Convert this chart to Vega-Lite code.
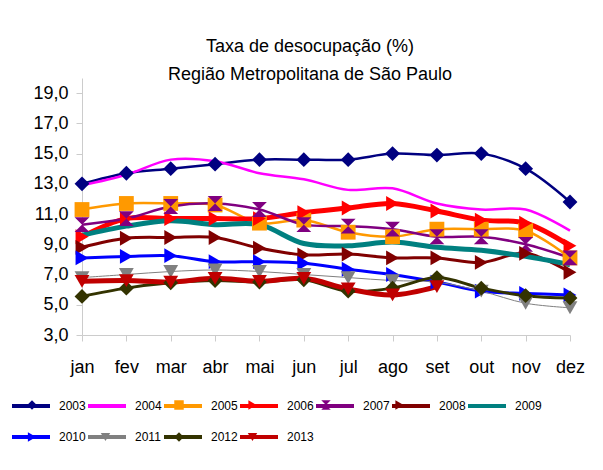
{
  "$schema": "https://vega.github.io/schema/vega-lite/v6.json",
  "width": 488,
  "height": 257,
  "autosize": {"type": "none"},
  "padding": {"left": 82, "top": 78, "right": 33, "bottom": 135},
  "background": "white",
  "title": {
    "text": ["Taxa de desocupação (%)", "Região Metropolitana de São Paulo"],
    "font": "Liberation Sans",
    "fontSize": 18,
    "fontWeight": "normal",
    "lineHeight": 28,
    "anchor": "middle",
    "offset": -6,
    "dx": -16,
    "color": "black"
  },
  "config": {
    "view": {"stroke": null},
    "axis": {
      "labelFont": "Liberation Sans",
      "labelFontSize": 18,
      "labelColor": "black",
      "domainColor": "#cccccc",
      "tickColor": "#cccccc",
      "tickSize": 6,
      "grid": false,
      "title": null
    },
    "legend": {
      "labelFont": "Liberation Sans",
      "labelFontSize": 12,
      "labelColor": "black"
    }
  },
  "data": {
    "values": [
      {"year": "2003", "month": "jan", "value": 13.0}, {"year": "2003", "month": "fev", "value": 13.7}, {"year": "2003", "month": "mar", "value": 14.0}, {"year": "2003", "month": "abr", "value": 14.3}, {"year": "2003", "month": "mai", "value": 14.6}, {"year": "2003", "month": "jun", "value": 14.6}, {"year": "2003", "month": "jul", "value": 14.6}, {"year": "2003", "month": "ago", "value": 15.0}, {"year": "2003", "month": "set", "value": 14.9}, {"year": "2003", "month": "out", "value": 15.0}, {"year": "2003", "month": "nov", "value": 14.0}, {"year": "2003", "month": "dez", "value": 11.8},
      {"year": "2004", "month": "jan", "value": 12.9}, {"year": "2004", "month": "fev", "value": 13.6}, {"year": "2004", "month": "mar", "value": 14.6}, {"year": "2004", "month": "abr", "value": 14.5}, {"year": "2004", "month": "mai", "value": 13.7}, {"year": "2004", "month": "jun", "value": 13.3}, {"year": "2004", "month": "jul", "value": 12.6}, {"year": "2004", "month": "ago", "value": 12.7}, {"year": "2004", "month": "set", "value": 11.7}, {"year": "2004", "month": "out", "value": 11.3}, {"year": "2004", "month": "nov", "value": 11.3}, {"year": "2004", "month": "dez", "value": 9.9},
      {"year": "2005", "month": "jan", "value": 11.3}, {"year": "2005", "month": "fev", "value": 11.7}, {"year": "2005", "month": "mar", "value": 11.7}, {"year": "2005", "month": "abr", "value": 11.6}, {"year": "2005", "month": "mai", "value": 10.4}, {"year": "2005", "month": "jun", "value": 10.6}, {"year": "2005", "month": "jul", "value": 9.8}, {"year": "2005", "month": "ago", "value": 9.5}, {"year": "2005", "month": "set", "value": 10.0}, {"year": "2005", "month": "out", "value": 10.0}, {"year": "2005", "month": "nov", "value": 9.9}, {"year": "2005", "month": "dez", "value": 8.1},
      {"year": "2006", "month": "jan", "value": 9.5}, {"year": "2006", "month": "fev", "value": 10.7}, {"year": "2006", "month": "mar", "value": 10.7}, {"year": "2006", "month": "abr", "value": 10.7}, {"year": "2006", "month": "mai", "value": 10.7}, {"year": "2006", "month": "jun", "value": 11.1}, {"year": "2006", "month": "jul", "value": 11.4}, {"year": "2006", "month": "ago", "value": 11.7}, {"year": "2006", "month": "set", "value": 11.2}, {"year": "2006", "month": "out", "value": 10.6}, {"year": "2006", "month": "nov", "value": 10.4}, {"year": "2006", "month": "dez", "value": 8.9},
      {"year": "2007", "month": "jan", "value": 10.3}, {"year": "2007", "month": "fev", "value": 10.7}, {"year": "2007", "month": "mar", "value": 11.5}, {"year": "2007", "month": "abr", "value": 11.7}, {"year": "2007", "month": "mai", "value": 11.3}, {"year": "2007", "month": "jun", "value": 10.3}, {"year": "2007", "month": "jul", "value": 10.2}, {"year": "2007", "month": "ago", "value": 10.0}, {"year": "2007", "month": "set", "value": 9.5}, {"year": "2007", "month": "out", "value": 9.5}, {"year": "2007", "month": "nov", "value": 9.0}, {"year": "2007", "month": "dez", "value": 8.1},
      {"year": "2008", "month": "jan", "value": 8.8}, {"year": "2008", "month": "fev", "value": 9.4}, {"year": "2008", "month": "mar", "value": 9.45}, {"year": "2008", "month": "abr", "value": 9.45}, {"year": "2008", "month": "mai", "value": 8.75}, {"year": "2008", "month": "jun", "value": 8.3}, {"year": "2008", "month": "jul", "value": 8.35}, {"year": "2008", "month": "ago", "value": 8.1}, {"year": "2008", "month": "set", "value": 8.1}, {"year": "2008", "month": "out", "value": 7.8}, {"year": "2008", "month": "nov", "value": 8.4}, {"year": "2008", "month": "dez", "value": 7.15},
      {"year": "2009", "month": "jan", "value": 9.6}, {"year": "2009", "month": "fev", "value": 10.2}, {"year": "2009", "month": "mar", "value": 10.55}, {"year": "2009", "month": "abr", "value": 10.3}, {"year": "2009", "month": "mai", "value": 10.3}, {"year": "2009", "month": "jun", "value": 9.05}, {"year": "2009", "month": "jul", "value": 8.9}, {"year": "2009", "month": "ago", "value": 9.15}, {"year": "2009", "month": "set", "value": 8.8}, {"year": "2009", "month": "out", "value": 8.6}, {"year": "2009", "month": "nov", "value": 8.2}, {"year": "2009", "month": "dez", "value": 7.65},
      {"year": "2010", "month": "jan", "value": 8.1}, {"year": "2010", "month": "fev", "value": 8.2}, {"year": "2010", "month": "mar", "value": 8.25}, {"year": "2010", "month": "abr", "value": 7.85}, {"year": "2010", "month": "mai", "value": 7.85}, {"year": "2010", "month": "jun", "value": 7.75}, {"year": "2010", "month": "jul", "value": 7.35}, {"year": "2010", "month": "ago", "value": 7.0}, {"year": "2010", "month": "set", "value": 6.5}, {"year": "2010", "month": "out", "value": 5.9}, {"year": "2010", "month": "nov", "value": 5.75}, {"year": "2010", "month": "dez", "value": 5.65},
      {"year": "2011", "month": "jan", "value": 6.8}, {"year": "2011", "month": "fev", "value": 7.0}, {"year": "2011", "month": "mar", "value": 7.2}, {"year": "2011", "month": "abr", "value": 7.3}, {"year": "2011", "month": "mai", "value": 7.2}, {"year": "2011", "month": "jun", "value": 7.0}, {"year": "2011", "month": "jul", "value": 6.8}, {"year": "2011", "month": "ago", "value": 6.6}, {"year": "2011", "month": "set", "value": 6.5}, {"year": "2011", "month": "out", "value": 5.9}, {"year": "2011", "month": "nov", "value": 5.1}, {"year": "2011", "month": "dez", "value": 4.8},
      {"year": "2012", "month": "jan", "value": 5.55}, {"year": "2012", "month": "fev", "value": 6.1}, {"year": "2012", "month": "mar", "value": 6.45}, {"year": "2012", "month": "abr", "value": 6.6}, {"year": "2012", "month": "mai", "value": 6.5}, {"year": "2012", "month": "jun", "value": 6.65}, {"year": "2012", "month": "jul", "value": 5.9}, {"year": "2012", "month": "ago", "value": 6.1}, {"year": "2012", "month": "set", "value": 6.8}, {"year": "2012", "month": "out", "value": 6.1}, {"year": "2012", "month": "nov", "value": 5.6}, {"year": "2012", "month": "dez", "value": 5.45},
      {"year": "2013", "month": "jan", "value": 6.55}, {"year": "2013", "month": "fev", "value": 6.6}, {"year": "2013", "month": "mar", "value": 6.5}, {"year": "2013", "month": "abr", "value": 6.75}, {"year": "2013", "month": "mai", "value": 6.55}, {"year": "2013", "month": "jun", "value": 6.75}, {"year": "2013", "month": "jul", "value": 6.05}, {"year": "2013", "month": "ago", "value": 5.65}, {"year": "2013", "month": "set", "value": 6.2}
    ]
  },
  "encoding": {
    "x": {
      "field": "month", "type": "ordinal",
      "sort": ["jan","fev","mar","abr","mai","jun","jul","ago","set","out","nov","dez"],
      "scale": {"type": "point", "padding": 0},
      "axis": {"labelAngle": 0, "labelPadding": 17}
    },
    "y": {
      "field": "value", "type": "quantitative",
      "scale": {"domain": [3, 20], "nice": false, "zero": false},
      "axis": {"values": [3,5,7,9,11,13,15,17,19], "labelExpr": "replace(format(datum.value, '.1f'), '.', ',')", "labelPadding": 8}
    }
  },
  "layer": [
    {
      "mark": {"type": "line", "interpolate": "catmull-rom"},
      "encoding": {
        "color": {
          "field": "year", "type": "nominal",
          "scale": {
            "domain": ["2003","2004","2005","2006","2007","2008","2009","2010","2011","2012","2013"],
            "range": ["#000080","#ff00ff","#ff9900","#ff0000","#800080","#800000","#008080","#0000ff","#808080","#333300","#c00000"]
          },
          "legend": {
            "title": null,
            "orient": "none",
            "legendX": -72,
            "legendY": 307,
            "direction": "horizontal",
            "columns": 7,
            "symbolType": "stroke",
            "symbolSize": 1444,
            "symbolStrokeWidth": 4,
            "columnPadding": -11,
            "rowPadding": 2,
            "labelOffset": 7
          }
        },
        "strokeWidth": {
          "field": "year", "type": "nominal",
          "scale": {
            "type": "ordinal",
            "domain": ["2003","2004","2005","2006","2007","2008","2009","2010","2011","2012","2013"],
            "range": [2.5, 2.5, 2.5, 5, 2.5, 3, 5, 3, 1, 3, 5]
          },
          "legend": null
        }
      }
    },
    {
      "transform": [{"filter": "datum.year != '2004' && datum.year != '2009'"}],
      "mark": {"type": "point", "filled": true, "opacity": 1, "size": 220},
      "encoding": {
        "shape": {
          "field": "year", "type": "nominal",
          "scale": {
            "domain": ["2003","2004","2005","2006","2007","2008","2009","2010","2011","2012","2013"],
            "range": ["diamond","M0,0","square","triangle-right","M-1,-1L1,-1L-1,1L1,1Z","triangle-right","M0,0","triangle-right","triangle-down","diamond","triangle-down"]
          },
          "legend": {
            "title": null,
            "orient": "none",
            "legendX": -56,
            "legendY": 321,
            "direction": "horizontal",
            "columns": 7,
            "symbolSize": 90,
            "symbolStrokeWidth": 0,
            "columnPadding": 16.5,
            "rowPadding": 20,
            "labelOffset": 18.25,
            "labelOpacity": 0
          }
        },
        "color": {
          "field": "year", "type": "nominal",
          "legend": {
            "title": null,
            "orient": "none",
            "legendX": -56,
            "legendY": 321,
            "direction": "horizontal",
            "columns": 7,
            "symbolSize": 90,
            "symbolStrokeWidth": 0,
            "columnPadding": 16.5,
            "rowPadding": 20,
            "labelOffset": 18.25,
            "labelOpacity": 0
          }
        }
      }
    }
  ],
  "resolve": {"legend": {"color": "independent", "shape": "independent"}}
}
